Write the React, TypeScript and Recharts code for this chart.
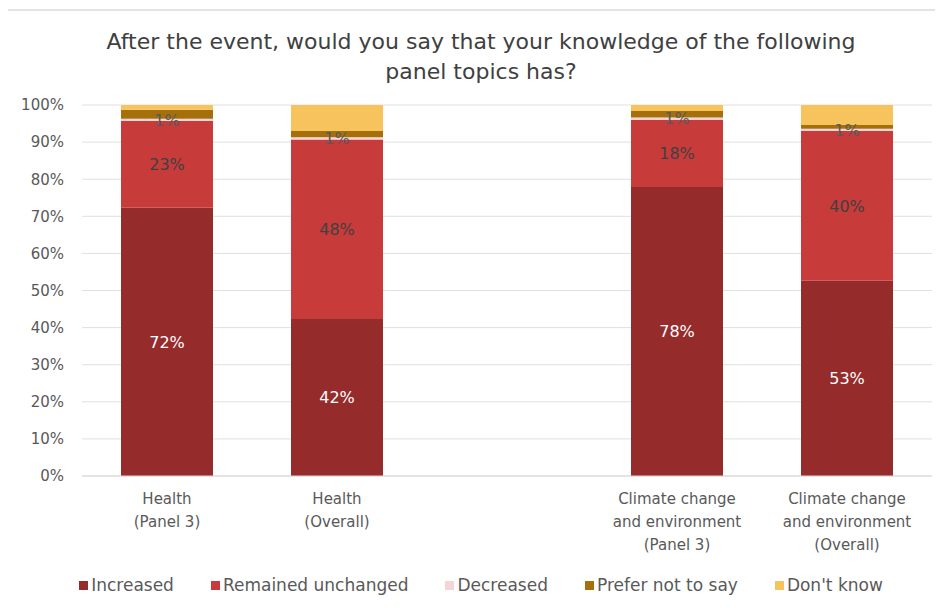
import { BarChart, Bar, XAxis, YAxis, CartesianGrid, Legend, LabelList } from 'recharts';

const CATEGORIES = [
  'Health\n(Panel 3)',
  'Health\n(Overall)',
  '',
  'Climate change\nand environment\n(Panel 3)',
  'Climate change\nand environment\n(Overall)',
];

// percent values per category (null = empty spacer slot)
const INCREASED = [72.3, 42.3, null, 77.9, 52.6];
const UNCHANGED = [23.4, 48.4, null, 18.1, 40.4];
const DECREASED = [0.6, 0.6, null, 0.6, 0.6];
const PREFER_NOT = [2.4, 1.7, null, 1.8, 1.0];
const DONT_KNOW = [1.3, 7.0, null, 1.6, 5.4];

const SERIES_ORDER = ['Increased', 'Remained unchanged', 'Decreased', 'Prefer not to say', "Don't know"];

const Y_TICKS = [0, 10, 20, 30, 40, 50, 60, 70, 80, 90, 100];

const data = CATEGORIES.map((name, i) => ({
  name,
  increased: INCREASED[i],
  unchanged: UNCHANGED[i],
  decreased: DECREASED[i],
  prefer: PREFER_NOT[i],
  dontKnow: DONT_KNOW[i],
}));

const FONT = '"DejaVu Sans", sans-serif';
const GRAY = '#595959';

const pct = (v: any) => (v == null ? '' : `${Math.round(Number(v))}%`);

function CategoryTick({ x, y, payload }: any) {
  const lines = String(payload.value).split('\n');
  return (
    <text x={x} y={y} textAnchor="middle" fill={GRAY} fontSize={15} fontFamily={FONT}>
      {lines.map((l, i) => (
        <tspan key={i} x={x} dy={i === 0 ? 20 : 23}>
          {l}
        </tspan>
      ))}
    </text>
  );
}

function LegendContent({ payload }: any) {
  const items = [...(payload || [])].sort(
    (a: any, b: any) => SERIES_ORDER.indexOf(a.value) - SERIES_ORDER.indexOf(b.value)
  );
  return (
    <div
      style={{
        display: 'flex',
        justifyContent: 'center',
        gap: 37,
        height: 24,
        alignItems: 'center',
        fontFamily: FONT,
        fontSize: 17,
        color: GRAY,
        paddingLeft: 18,
      }}
    >
      {items.map((p: any) => (
        <div key={p.value} style={{ display: 'flex', alignItems: 'center' }}>
          <span style={{ width: 9, height: 9, background: p.color, marginRight: 3, display: 'inline-block' }} />
          {p.value}
        </div>
      ))}
    </div>
  );
}

export default function App() {
  return (
    <div style={{ position: 'relative', width: 943, height: 611, margin: -8, background: '#fff' }}>
      <div
        style={{
          position: 'absolute',
          left: 5,
          top: 9,
          right: 0,
          bottom: 0,
          borderTop: '2px solid #e3e3e3',
          borderLeft: '2px solid #e3e3e3',
        }}
      />
      <div
        style={{
          position: 'absolute',
          left: 80,
          width: 802,
          top: 27,
          textAlign: 'center',
          fontFamily: FONT,
          fontSize: 22,
          lineHeight: '30px',
          color: '#404040',
        }}
      >
        After the event, would you say that your knowledge of the following
        <br />
        panel topics has?
      </div>
      <BarChart
        width={943}
        height={611}
        data={data}
        margin={{ top: 105, right: 11, bottom: 36, left: 12 }}
        barSize={92}
        style={{ position: 'absolute', left: 0, top: 0 }}
      >
        <CartesianGrid vertical={false} stroke="#e0e0e0" />
        <XAxis
          dataKey="name"
          height={75}
          tickLine={false}
          axisLine={{ stroke: '#d9d9d9' }}
          tick={<CategoryTick />}
          interval={0}
        />
        <YAxis
          width={70}
          domain={[0, 100]}
          ticks={Y_TICKS}
          tickFormatter={(v) => `${v}%`}
          axisLine={false}
          tickLine={false}
          tickMargin={12}
          tick={{ fill: GRAY, fontSize: 15, fontFamily: FONT }}
        />
        <Legend
          verticalAlign="bottom"
          content={<LegendContent />}
          wrapperStyle={{ bottom: 14 }}
          itemSorter={null as any}
        />
        <Bar dataKey="increased" name="Increased" stackId="a" fill="#962B2B" isAnimationActive={false}>
          <LabelList dataKey="increased" position="center" formatter={pct} fill="#ffffff" fontSize={16} fontFamily={FONT} />
        </Bar>
        <Bar dataKey="unchanged" name="Remained unchanged" stackId="a" fill="#C83B3B" isAnimationActive={false}>
          <LabelList dataKey="unchanged" position="center" formatter={pct} fill="#404040" fontSize={16} fontFamily={FONT} />
        </Bar>
        <Bar dataKey="decreased" name="Decreased" stackId="a" fill="#F5D5D7" isAnimationActive={false}>
          <LabelList dataKey="decreased" position="center" formatter={pct} fill={GRAY} fontSize={16} fontFamily={FONT} />
        </Bar>
        <Bar dataKey="prefer" name="Prefer not to say" stackId="a" fill="#A5700C" isAnimationActive={false} />
        <Bar dataKey="dontKnow" name="Don't know" stackId="a" fill="#F7C35C" isAnimationActive={false} />
      </BarChart>
    </div>
  );
}
